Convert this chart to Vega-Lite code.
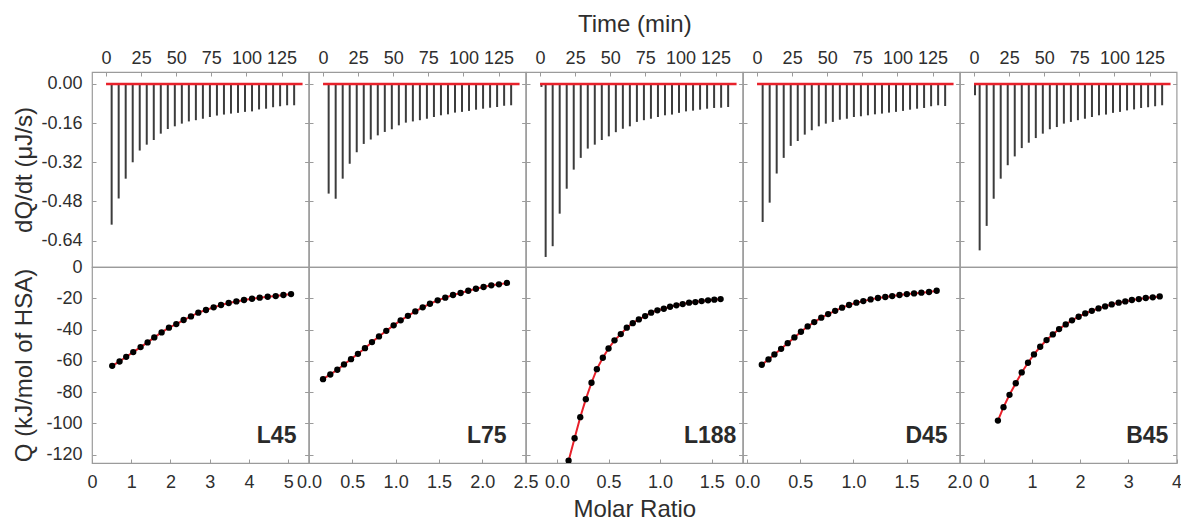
{
  "$schema": "https://vega.github.io/schema/vega-lite/v6.json",
  "padding": {"left": 12, "top": 11, "right": 5, "bottom": 5},
  "background": "white",
  "datasets": {
    "base": [{"t": 0, "v": 0}, {"t": 140, "v": 0}],
    "spikes": [
      {"p":"L45","t":4,"v":-0.575},{"p":"L45","t":9,"v":-0.468},{"p":"L45","t":14,"v":-0.387},{"p":"L45","t":19,"v":-0.320},{"p":"L45","t":24,"v":-0.272},{"p":"L45","t":29,"v":-0.248},{"p":"L45","t":34,"v":-0.229},{"p":"L45","t":39,"v":-0.203},{"p":"L45","t":44,"v":-0.184},{"p":"L45","t":49,"v":-0.173},{"p":"L45","t":54,"v":-0.162},{"p":"L45","t":59,"v":-0.153},{"p":"L45","t":64,"v":-0.148},{"p":"L45","t":69,"v":-0.142},{"p":"L45","t":74,"v":-0.135},{"p":"L45","t":79,"v":-0.129},{"p":"L45","t":84,"v":-0.125},{"p":"L45","t":89,"v":-0.121},{"p":"L45","t":94,"v":-0.118},{"p":"L45","t":99,"v":-0.114},{"p":"L45","t":104,"v":-0.112},{"p":"L45","t":109,"v":-0.104},{"p":"L45","t":114,"v":-0.101},{"p":"L45","t":119,"v":-0.095},{"p":"L45","t":124,"v":-0.091},{"p":"L45","t":129,"v":-0.087},{"p":"L45","t":134,"v":-0.087},
      {"p":"L75","t":4,"v":-0.448},{"p":"L75","t":9,"v":-0.469},{"p":"L75","t":14,"v":-0.387},{"p":"L75","t":19,"v":-0.326},{"p":"L75","t":24,"v":-0.279},{"p":"L75","t":29,"v":-0.245},{"p":"L75","t":34,"v":-0.227},{"p":"L75","t":39,"v":-0.210},{"p":"L75","t":44,"v":-0.196},{"p":"L75","t":49,"v":-0.185},{"p":"L75","t":54,"v":-0.169},{"p":"L75","t":59,"v":-0.158},{"p":"L75","t":64,"v":-0.153},{"p":"L75","t":69,"v":-0.148},{"p":"L75","t":74,"v":-0.142},{"p":"L75","t":79,"v":-0.135},{"p":"L75","t":84,"v":-0.128},{"p":"L75","t":89,"v":-0.124},{"p":"L75","t":94,"v":-0.117},{"p":"L75","t":99,"v":-0.114},{"p":"L75","t":104,"v":-0.110},{"p":"L75","t":109,"v":-0.105},{"p":"L75","t":114,"v":-0.101},{"p":"L75","t":119,"v":-0.097},{"p":"L75","t":124,"v":-0.094},{"p":"L75","t":129,"v":-0.089},{"p":"L75","t":134,"v":-0.087},
      {"p":"L188","t":1,"v":-0.012},{"p":"L188","t":4,"v":-0.707},{"p":"L188","t":9,"v":-0.663},{"p":"L188","t":14,"v":-0.530},{"p":"L188","t":19,"v":-0.428},{"p":"L188","t":24,"v":-0.350},{"p":"L188","t":29,"v":-0.302},{"p":"L188","t":34,"v":-0.264},{"p":"L188","t":39,"v":-0.248},{"p":"L188","t":44,"v":-0.229},{"p":"L188","t":49,"v":-0.214},{"p":"L188","t":54,"v":-0.197},{"p":"L188","t":59,"v":-0.183},{"p":"L188","t":64,"v":-0.173},{"p":"L188","t":69,"v":-0.155},{"p":"L188","t":74,"v":-0.148},{"p":"L188","t":79,"v":-0.142},{"p":"L188","t":84,"v":-0.135},{"p":"L188","t":89,"v":-0.128},{"p":"L188","t":94,"v":-0.125},{"p":"L188","t":99,"v":-0.118},{"p":"L188","t":104,"v":-0.112},{"p":"L188","t":109,"v":-0.109},{"p":"L188","t":114,"v":-0.105},{"p":"L188","t":119,"v":-0.101},{"p":"L188","t":124,"v":-0.098},{"p":"L188","t":129,"v":-0.097},{"p":"L188","t":134,"v":-0.094},
      {"p":"D45","t":4,"v":-0.564},{"p":"D45","t":9,"v":-0.485},{"p":"D45","t":14,"v":-0.366},{"p":"D45","t":19,"v":-0.302},{"p":"D45","t":24,"v":-0.253},{"p":"D45","t":29,"v":-0.233},{"p":"D45","t":34,"v":-0.207},{"p":"D45","t":39,"v":-0.189},{"p":"D45","t":44,"v":-0.173},{"p":"D45","t":49,"v":-0.162},{"p":"D45","t":54,"v":-0.155},{"p":"D45","t":59,"v":-0.146},{"p":"D45","t":64,"v":-0.142},{"p":"D45","t":69,"v":-0.135},{"p":"D45","t":74,"v":-0.132},{"p":"D45","t":79,"v":-0.128},{"p":"D45","t":84,"v":-0.124},{"p":"D45","t":89,"v":-0.121},{"p":"D45","t":94,"v":-0.117},{"p":"D45","t":99,"v":-0.114},{"p":"D45","t":104,"v":-0.110},{"p":"D45","t":109,"v":-0.105},{"p":"D45","t":114,"v":-0.101},{"p":"D45","t":119,"v":-0.098},{"p":"D45","t":124,"v":-0.091},{"p":"D45","t":129,"v":-0.087},{"p":"D45","t":134,"v":-0.090},
      {"p":"B45","t":0.7,"v":-0.046},{"p":"B45","t":4,"v":-0.680},{"p":"B45","t":9,"v":-0.580},{"p":"B45","t":14,"v":-0.469},{"p":"B45","t":19,"v":-0.387},{"p":"B45","t":24,"v":-0.332},{"p":"B45","t":29,"v":-0.296},{"p":"B45","t":34,"v":-0.262},{"p":"B45","t":39,"v":-0.240},{"p":"B45","t":44,"v":-0.221},{"p":"B45","t":49,"v":-0.203},{"p":"B45","t":54,"v":-0.185},{"p":"B45","t":59,"v":-0.176},{"p":"B45","t":64,"v":-0.162},{"p":"B45","t":69,"v":-0.155},{"p":"B45","t":74,"v":-0.148},{"p":"B45","t":79,"v":-0.142},{"p":"B45","t":84,"v":-0.135},{"p":"B45","t":89,"v":-0.128},{"p":"B45","t":94,"v":-0.125},{"p":"B45","t":99,"v":-0.118},{"p":"B45","t":104,"v":-0.114},{"p":"B45","t":109,"v":-0.108},{"p":"B45","t":114,"v":-0.104},{"p":"B45","t":119,"v":-0.098},{"p":"B45","t":124,"v":-0.095},{"p":"B45","t":129,"v":-0.091},{"p":"B45","t":134,"v":-0.087}
    ],
    "iso": [
      {"p":"L45","mr":0.515,"q":-63.2},{"p":"L45","mr":0.702,"q":-60.4},{"p":"L45","mr":0.872,"q":-57.4},{"p":"L45","mr":1.051,"q":-54.4},{"p":"L45","mr":1.238,"q":-51.2},{"p":"L45","mr":1.417,"q":-48.2},{"p":"L45","mr":1.587,"q":-45.0},{"p":"L45","mr":1.774,"q":-41.8},{"p":"L45","mr":1.961,"q":-38.8},{"p":"L45","mr":2.148,"q":-36.5},{"p":"L45","mr":2.335,"q":-33.9},{"p":"L45","mr":2.522,"q":-31.6},{"p":"L45","mr":2.709,"q":-29.2},{"p":"L45","mr":2.905,"q":-27.5},{"p":"L45","mr":3.100,"q":-25.8},{"p":"L45","mr":3.288,"q":-24.3},{"p":"L45","mr":3.483,"q":-23.0},{"p":"L45","mr":3.679,"q":-22.0},{"p":"L45","mr":3.874,"q":-21.1},{"p":"L45","mr":4.078,"q":-20.3},{"p":"L45","mr":4.274,"q":-19.6},{"p":"L45","mr":4.478,"q":-19.0},{"p":"L45","mr":4.682,"q":-18.6},{"p":"L45","mr":4.878,"q":-17.9},{"p":"L45","mr":5.073,"q":-17.3},
      {"p":"L75","mr":0.162,"q":-71.7},{"p":"L75","mr":0.246,"q":-68.7},{"p":"L75","mr":0.327,"q":-65.7},{"p":"L75","mr":0.404,"q":-62.3},{"p":"L75","mr":0.485,"q":-58.9},{"p":"L75","mr":0.565,"q":-55.5},{"p":"L75","mr":0.646,"q":-51.9},{"p":"L75","mr":0.727,"q":-48.0},{"p":"L75","mr":0.808,"q":-44.4},{"p":"L75","mr":0.892,"q":-40.8},{"p":"L75","mr":0.977,"q":-37.3},{"p":"L75","mr":1.058,"q":-34.1},{"p":"L75","mr":1.142,"q":-31.2},{"p":"L75","mr":1.227,"q":-28.4},{"p":"L75","mr":1.312,"q":-25.8},{"p":"L75","mr":1.396,"q":-23.5},{"p":"L75","mr":1.485,"q":-21.3},{"p":"L75","mr":1.573,"q":-19.6},{"p":"L75","mr":1.662,"q":-17.9},{"p":"L75","mr":1.750,"q":-16.6},{"p":"L75","mr":1.838,"q":-15.2},{"p":"L75","mr":1.927,"q":-13.9},{"p":"L75","mr":2.015,"q":-12.8},{"p":"L75","mr":2.104,"q":-11.7},{"p":"L75","mr":2.192,"q":-11.1},{"p":"L75","mr":2.285,"q":-10.2},
      {"p":"L188","mr":0.113,"q":-123.8},{"p":"L188","mr":0.171,"q":-109.5},{"p":"L188","mr":0.226,"q":-96.0},{"p":"L188","mr":0.280,"q":-84.5},{"p":"L188","mr":0.335,"q":-74.0},{"p":"L188","mr":0.387,"q":-65.3},{"p":"L188","mr":0.445,"q":-58.0},{"p":"L188","mr":0.500,"q":-52.1},{"p":"L188","mr":0.558,"q":-46.9},{"p":"L188","mr":0.619,"q":-42.9},{"p":"L188","mr":0.677,"q":-38.8},{"p":"L188","mr":0.735,"q":-35.9},{"p":"L188","mr":0.794,"q":-33.5},{"p":"L188","mr":0.855,"q":-31.4},{"p":"L188","mr":0.913,"q":-29.2},{"p":"L188","mr":0.974,"q":-27.7},{"p":"L188","mr":1.036,"q":-26.7},{"p":"L188","mr":1.097,"q":-25.4},{"p":"L188","mr":1.158,"q":-24.5},{"p":"L188","mr":1.219,"q":-23.7},{"p":"L188","mr":1.281,"q":-22.8},{"p":"L188","mr":1.342,"q":-22.4},{"p":"L188","mr":1.403,"q":-21.8},{"p":"L188","mr":1.465,"q":-21.3},{"p":"L188","mr":1.526,"q":-20.9},{"p":"L188","mr":1.587,"q":-20.5},
      {"p":"D45","mr":0.137,"q":-62.5},{"p":"D45","mr":0.200,"q":-59.1},{"p":"D45","mr":0.256,"q":-55.9},{"p":"D45","mr":0.319,"q":-52.3},{"p":"D45","mr":0.381,"q":-48.7},{"p":"D45","mr":0.444,"q":-45.0},{"p":"D45","mr":0.506,"q":-41.4},{"p":"D45","mr":0.569,"q":-38.0},{"p":"D45","mr":0.631,"q":-35.2},{"p":"D45","mr":0.697,"q":-32.4},{"p":"D45","mr":0.762,"q":-30.1},{"p":"D45","mr":0.828,"q":-28.0},{"p":"D45","mr":0.893,"q":-26.0},{"p":"D45","mr":0.959,"q":-24.3},{"p":"D45","mr":1.028,"q":-22.8},{"p":"D45","mr":1.093,"q":-21.8},{"p":"D45","mr":1.162,"q":-20.7},{"p":"D45","mr":1.231,"q":-19.8},{"p":"D45","mr":1.300,"q":-19.2},{"p":"D45","mr":1.365,"q":-18.6},{"p":"D45","mr":1.434,"q":-17.9},{"p":"D45","mr":1.503,"q":-17.3},{"p":"D45","mr":1.571,"q":-16.9},{"p":"D45","mr":1.640,"q":-16.4},{"p":"D45","mr":1.712,"q":-16.0},{"p":"D45","mr":1.784,"q":-15.2},
      {"p":"B45","mr":0.296,"q":-98.2},{"p":"B45","mr":0.412,"q":-89.6},{"p":"B45","mr":0.536,"q":-81.7},{"p":"B45","mr":0.666,"q":-74.3},{"p":"B45","mr":0.789,"q":-67.4},{"p":"B45","mr":0.920,"q":-61.2},{"p":"B45","mr":1.043,"q":-55.9},{"p":"B45","mr":1.173,"q":-51.0},{"p":"B45","mr":1.304,"q":-46.7},{"p":"B45","mr":1.434,"q":-43.1},{"p":"B45","mr":1.564,"q":-39.7},{"p":"B45","mr":1.702,"q":-36.7},{"p":"B45","mr":1.832,"q":-34.1},{"p":"B45","mr":1.969,"q":-31.8},{"p":"B45","mr":2.106,"q":-29.7},{"p":"B45","mr":2.243,"q":-28.0},{"p":"B45","mr":2.381,"q":-26.5},{"p":"B45","mr":2.518,"q":-25.2},{"p":"B45","mr":2.655,"q":-23.9},{"p":"B45","mr":2.799,"q":-22.8},{"p":"B45","mr":2.936,"q":-22.0},{"p":"B45","mr":3.073,"q":-21.1},{"p":"B45","mr":3.217,"q":-20.5},{"p":"B45","mr":3.361,"q":-19.8},{"p":"B45","mr":3.506,"q":-19.4},{"p":"B45","mr":3.650,"q":-18.8}
    ]
  },
  "columns": 5,
  "spacing": 0,
  "bounds": "flush",
  "concat": [
    {"width": 216.6, "height": 195, "resolve": {"axis": {"y": "independent"}}, "layer": [
      {"data": {"name": "spikes"}, "transform": [{"filter": "datum.p === 'L45'"}], "mark": {"type": "rule", "color": "#3c3c3c", "strokeWidth": 2},
       "encoding": {"x": {"field": "t", "type": "quantitative", "scale": {"domain": [-10, 144.3], "nice": false, "zero": false}, "axis": {"orient": "top", "values": [0,25,50,75,100,125], "title": null, "labelPadding": 9}},
         "y": {"field": "v", "type": "quantitative", "scale": {"domain": [-0.748, 0.049], "nice": false, "zero": false}, "axis": {"values": [0,-0.16,-0.32,-0.48,-0.64], "format": ".2f", "labelExpr": "replace(datum.label, '\u2212', '-')", "title": "dQ/dt (μJ/s)", "titlePadding": 4}},
         "y2": {"datum": 0}}},
      {"data": {"name": "base"}, "mark": {"type": "line", "color": "#e8212b", "strokeWidth": 2.5},
       "encoding": {"x": {"field": "t", "type": "quantitative", "axis": {"orient": "top", "values": [0,25,50,75,100,125], "title": null, "labelPadding": 9}},
         "y": {"field": "v", "type": "quantitative", "axis": {"orient": "right", "values": [0,-0.16,-0.32,-0.48,-0.64], "labels": false, "title": null}}}}
    ]},
    {"width": 216.6, "height": 195, "resolve": {"axis": {"y": "independent"}}, "layer": [
      {"data": {"name": "spikes"}, "transform": [{"filter": "datum.p === 'L75'"}], "mark": {"type": "rule", "color": "#3c3c3c", "strokeWidth": 2},
       "encoding": {"x": {"field": "t", "type": "quantitative", "scale": {"domain": [-10, 144.3], "nice": false, "zero": false}, "axis": {"orient": "top", "values": [0,25,50,75,100,125], "title": null, "labelPadding": 9}},
         "y": {"field": "v", "type": "quantitative", "scale": {"domain": [-0.748, 0.049], "nice": false, "zero": false}, "axis": {"values": [0,-0.16,-0.32,-0.48,-0.64], "labels": false, "title": null}},
         "y2": {"datum": 0}}},
      {"data": {"name": "base"}, "mark": {"type": "line", "color": "#e8212b", "strokeWidth": 2.5},
       "encoding": {"x": {"field": "t", "type": "quantitative", "axis": {"orient": "top", "values": [0,25,50,75,100,125], "title": null, "labelPadding": 9}},
         "y": {"field": "v", "type": "quantitative", "axis": {"orient": "right", "values": [0,-0.16,-0.32,-0.48,-0.64], "labels": false, "title": null}}}}
    ]},
    {"width": 216.6, "height": 195, "resolve": {"axis": {"y": "independent"}}, "layer": [
      {"data": {"name": "spikes"}, "transform": [{"filter": "datum.p === 'L188'"}], "mark": {"type": "rule", "color": "#3c3c3c", "strokeWidth": 2},
       "encoding": {"x": {"field": "t", "type": "quantitative", "scale": {"domain": [-10, 144.3], "nice": false, "zero": false}, "axis": {"orient": "top", "values": [0,25,50,75,100,125], "title": "Time (min)", "titlePadding": 13, "labelPadding": 9}},
         "y": {"field": "v", "type": "quantitative", "scale": {"domain": [-0.748, 0.049], "nice": false, "zero": false}, "axis": {"values": [0,-0.16,-0.32,-0.48,-0.64], "labels": false, "title": null}},
         "y2": {"datum": 0}}},
      {"data": {"name": "base"}, "mark": {"type": "line", "color": "#e8212b", "strokeWidth": 2.5},
       "encoding": {"x": {"field": "t", "type": "quantitative", "axis": {"orient": "top", "values": [0,25,50,75,100,125], "title": "Time (min)", "titlePadding": 13, "labelPadding": 9}},
         "y": {"field": "v", "type": "quantitative", "axis": {"orient": "right", "values": [0,-0.16,-0.32,-0.48,-0.64], "labels": false, "title": null}}}}
    ]},
    {"width": 216.6, "height": 195, "resolve": {"axis": {"y": "independent"}}, "layer": [
      {"data": {"name": "spikes"}, "transform": [{"filter": "datum.p === 'D45'"}], "mark": {"type": "rule", "color": "#3c3c3c", "strokeWidth": 2},
       "encoding": {"x": {"field": "t", "type": "quantitative", "scale": {"domain": [-10, 144.3], "nice": false, "zero": false}, "axis": {"orient": "top", "values": [0,25,50,75,100,125], "title": null, "labelPadding": 9}},
         "y": {"field": "v", "type": "quantitative", "scale": {"domain": [-0.748, 0.049], "nice": false, "zero": false}, "axis": {"values": [0,-0.16,-0.32,-0.48,-0.64], "labels": false, "title": null}},
         "y2": {"datum": 0}}},
      {"data": {"name": "base"}, "mark": {"type": "line", "color": "#e8212b", "strokeWidth": 2.5},
       "encoding": {"x": {"field": "t", "type": "quantitative", "axis": {"orient": "top", "values": [0,25,50,75,100,125], "title": null, "labelPadding": 9}},
         "y": {"field": "v", "type": "quantitative", "axis": {"orient": "right", "values": [0,-0.16,-0.32,-0.48,-0.64], "labels": false, "title": null}}}}
    ]},
    {"width": 216.6, "height": 195, "resolve": {"axis": {"y": "independent"}}, "layer": [
      {"data": {"name": "spikes"}, "transform": [{"filter": "datum.p === 'B45'"}], "mark": {"type": "rule", "color": "#3c3c3c", "strokeWidth": 2},
       "encoding": {"x": {"field": "t", "type": "quantitative", "scale": {"domain": [-10, 144.3], "nice": false, "zero": false}, "axis": {"orient": "top", "values": [0,25,50,75,100,125], "title": null, "labelPadding": 9}},
         "y": {"field": "v", "type": "quantitative", "scale": {"domain": [-0.748, 0.049], "nice": false, "zero": false}, "axis": {"values": [0,-0.16,-0.32,-0.48,-0.64], "labels": false, "title": null}},
         "y2": {"datum": 0}}},
      {"data": {"name": "base"}, "mark": {"type": "line", "color": "#e8212b", "strokeWidth": 2.5},
       "encoding": {"x": {"field": "t", "type": "quantitative", "axis": {"orient": "top", "values": [0,25,50,75,100,125], "title": null, "labelPadding": 9}},
         "y": {"field": "v", "type": "quantitative", "axis": {"orient": "right", "values": [0,-0.16,-0.32,-0.48,-0.64], "labels": false, "title": null}}}}
    ]},
    {"width": 216.6, "height": 196, "resolve": {"axis": {"y": "independent"}}, "layer": [
      {"data": {"name": "iso"}, "transform": [{"filter": "datum.p === 'L45'"}], "mark": {"type": "line", "color": "#e8212b", "strokeWidth": 2, "clip": true},
       "encoding": {"x": {"field": "mr", "type": "quantitative", "scale": {"domain": [0, 5.52], "nice": false, "zero": false}, "axis": {"values": [0,1,2,3,4,5], "format": "d", "title": null}},
         "y": {"field": "q", "type": "quantitative", "scale": {"domain": [-125.3, 0], "nice": false, "zero": false}, "axis": {"values": [0,-20,-40,-60,-80,-100,-120], "format": "d", "labelExpr": "replace(datum.label, '\u2212', '-')", "title": "Q (kJ/mol of HSA)", "titlePadding": 9}}}},
      {"data": {"name": "iso"}, "transform": [{"filter": "datum.p === 'L45'"}], "mark": {"type": "point", "filled": true, "color": "#000000", "opacity": 1, "size": 40, "clip": true},
       "encoding": {"x": {"field": "mr", "type": "quantitative", "axis": {"values": [0,1,2,3,4,5], "format": "d", "title": null}},
         "y": {"field": "q", "type": "quantitative", "axis": {"orient": "right", "values": [0,-20,-40,-60,-80,-100,-120], "labels": false, "title": null}}}},
      {"data": {"values": [{"label": "L45"}]}, "mark": {"type": "text", "font": "Liberation Sans", "fontWeight": "bold", "fontSize": 23, "align": "right", "baseline": "alphabetic", "color": "#2a2a2a"},
       "encoding": {"x": {"datum": 5.21, "type": "quantitative"}, "y": {"datum": -112.5, "type": "quantitative", "axis": null}, "text": {"field": "label"}}}
    ]},
    {"width": 216.6, "height": 196, "resolve": {"axis": {"y": "independent"}}, "layer": [
      {"data": {"name": "iso"}, "transform": [{"filter": "datum.p === 'L75'"}], "mark": {"type": "line", "color": "#e8212b", "strokeWidth": 2, "clip": true},
       "encoding": {"x": {"field": "mr", "type": "quantitative", "scale": {"domain": [0, 2.5], "nice": false, "zero": false}, "axis": {"values": [0,0.5,1,1.5,2,2.5], "format": ".1f", "title": null}},
         "y": {"field": "q", "type": "quantitative", "scale": {"domain": [-125.3, 0], "nice": false, "zero": false}, "axis": {"values": [0,-20,-40,-60,-80,-100,-120], "labels": false, "title": null}}}},
      {"data": {"name": "iso"}, "transform": [{"filter": "datum.p === 'L75'"}], "mark": {"type": "point", "filled": true, "color": "#000000", "opacity": 1, "size": 40, "clip": true},
       "encoding": {"x": {"field": "mr", "type": "quantitative", "axis": {"values": [0,0.5,1,1.5,2,2.5], "format": ".1f", "title": null}},
         "y": {"field": "q", "type": "quantitative", "axis": {"orient": "right", "values": [0,-20,-40,-60,-80,-100,-120], "labels": false, "title": null}}}},
      {"data": {"values": [{"label": "L75"}]}, "mark": {"type": "text", "font": "Liberation Sans", "fontWeight": "bold", "fontSize": 23, "align": "right", "baseline": "alphabetic", "color": "#2a2a2a"},
       "encoding": {"x": {"datum": 2.28, "type": "quantitative"}, "y": {"datum": -112.5, "type": "quantitative", "axis": null}, "text": {"field": "label"}}}
    ]},
    {"width": 216.6, "height": 196, "resolve": {"axis": {"y": "independent"}}, "layer": [
      {"data": {"name": "iso"}, "transform": [{"filter": "datum.p === 'L188'"}], "mark": {"type": "line", "color": "#e8212b", "strokeWidth": 2, "clip": true},
       "encoding": {"x": {"field": "mr", "type": "quantitative", "scale": {"domain": [-0.3, 1.8], "nice": false, "zero": false}, "axis": {"values": [0,0.5,1,1.5], "format": ".1f", "title": "Molar Ratio", "titlePadding": 6}},
         "y": {"field": "q", "type": "quantitative", "scale": {"domain": [-125.3, 0], "nice": false, "zero": false}, "axis": {"values": [0,-20,-40,-60,-80,-100,-120], "labels": false, "title": null}}}},
      {"data": {"name": "iso"}, "transform": [{"filter": "datum.p === 'L188'"}], "mark": {"type": "point", "filled": true, "color": "#000000", "opacity": 1, "size": 40, "clip": true},
       "encoding": {"x": {"field": "mr", "type": "quantitative", "axis": {"values": [0,0.5,1,1.5], "format": ".1f", "title": "Molar Ratio", "titlePadding": 6}},
         "y": {"field": "q", "type": "quantitative", "axis": {"orient": "right", "values": [0,-20,-40,-60,-80,-100,-120], "labels": false, "title": null}}}},
      {"data": {"values": [{"label": "L188"}]}, "mark": {"type": "text", "font": "Liberation Sans", "fontWeight": "bold", "fontSize": 23, "align": "right", "baseline": "alphabetic", "color": "#2a2a2a"},
       "encoding": {"x": {"datum": 1.74, "type": "quantitative"}, "y": {"datum": -112.5, "type": "quantitative", "axis": null}, "text": {"field": "label"}}}
    ]},
    {"width": 216.6, "height": 196, "resolve": {"axis": {"y": "independent"}}, "layer": [
      {"data": {"name": "iso"}, "transform": [{"filter": "datum.p === 'D45'"}], "mark": {"type": "line", "color": "#e8212b", "strokeWidth": 2, "clip": true},
       "encoding": {"x": {"field": "mr", "type": "quantitative", "scale": {"domain": [-0.04, 2.0], "nice": false, "zero": false}, "axis": {"values": [0,0.5,1,1.5,2], "format": ".1f", "title": null}},
         "y": {"field": "q", "type": "quantitative", "scale": {"domain": [-125.3, 0], "nice": false, "zero": false}, "axis": {"values": [0,-20,-40,-60,-80,-100,-120], "labels": false, "title": null}}}},
      {"data": {"name": "iso"}, "transform": [{"filter": "datum.p === 'D45'"}], "mark": {"type": "point", "filled": true, "color": "#000000", "opacity": 1, "size": 40, "clip": true},
       "encoding": {"x": {"field": "mr", "type": "quantitative", "axis": {"values": [0,0.5,1,1.5,2], "format": ".1f", "title": null}},
         "y": {"field": "q", "type": "quantitative", "axis": {"orient": "right", "values": [0,-20,-40,-60,-80,-100,-120], "labels": false, "title": null}}}},
      {"data": {"values": [{"label": "D45"}]}, "mark": {"type": "text", "font": "Liberation Sans", "fontWeight": "bold", "fontSize": 23, "align": "right", "baseline": "alphabetic", "color": "#2a2a2a"},
       "encoding": {"x": {"datum": 1.887, "type": "quantitative"}, "y": {"datum": -112.5, "type": "quantitative", "axis": null}, "text": {"field": "label"}}}
    ]},
    {"width": 216.6, "height": 196, "resolve": {"axis": {"y": "independent"}}, "layer": [
      {"data": {"name": "iso"}, "transform": [{"filter": "datum.p === 'B45'"}], "mark": {"type": "line", "color": "#e8212b", "strokeWidth": 2, "clip": true},
       "encoding": {"x": {"field": "mr", "type": "quantitative", "scale": {"domain": [-0.49, 4.0], "nice": false, "zero": false}, "axis": {"values": [0,1,2,3,4], "format": "d", "title": null}},
         "y": {"field": "q", "type": "quantitative", "scale": {"domain": [-125.3, 0], "nice": false, "zero": false}, "axis": {"values": [0,-20,-40,-60,-80,-100,-120], "labels": false, "title": null}}}},
      {"data": {"name": "iso"}, "transform": [{"filter": "datum.p === 'B45'"}], "mark": {"type": "point", "filled": true, "color": "#000000", "opacity": 1, "size": 40, "clip": true},
       "encoding": {"x": {"field": "mr", "type": "quantitative", "axis": {"values": [0,1,2,3,4], "format": "d", "title": null}},
         "y": {"field": "q", "type": "quantitative", "axis": {"orient": "right", "values": [0,-20,-40,-60,-80,-100,-120], "labels": false, "title": null}}}},
      {"data": {"values": [{"label": "B45"}]}, "mark": {"type": "text", "font": "Liberation Sans", "fontWeight": "bold", "fontSize": 23, "align": "right", "baseline": "alphabetic", "color": "#2a2a2a"},
       "encoding": {"x": {"datum": 3.83, "type": "quantitative"}, "y": {"datum": -112.5, "type": "quantitative", "axis": null}, "text": {"field": "label"}}}
    ]}
  ],
  "config": {
    "view": {"stroke": "#9b9b9b", "strokeWidth": 1.2},
    "font": "Liberation Sans",
    "axis": {"domain": false, "grid": false, "tickColor": "#9b9b9b", "tickSize": -4, "tickWidth": 1, "labelFontSize": 18, "labelColor": "#2e2e2e", "labelFont": "Liberation Sans", "titleFont": "Liberation Sans", "titleFontSize": 24, "titleFontWeight": "normal", "titleColor": "#2e2e2e", "labelPadding": 14, "labelOverlap": false, "labelBound": false, "labelFlush": false}
  }
}
